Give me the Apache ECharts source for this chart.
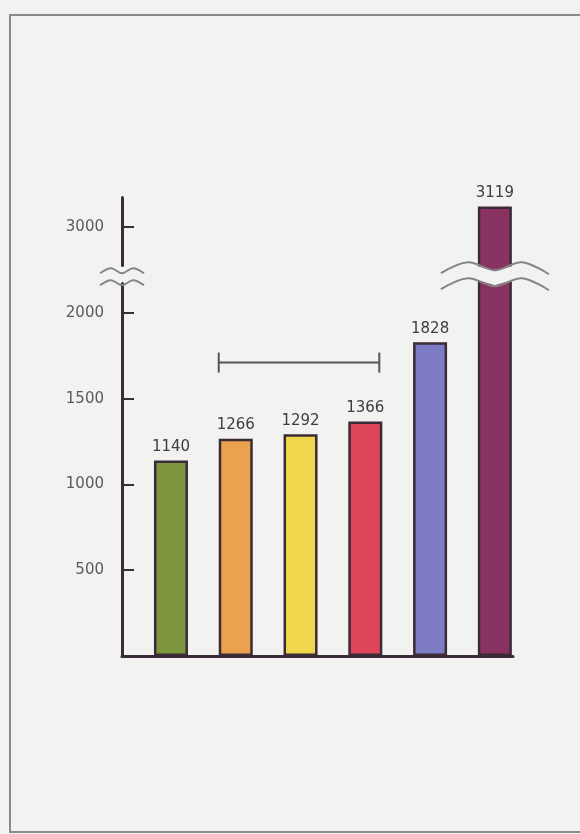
<!DOCTYPE html>
<html>
<head>
<meta charset="utf-8">
<script src="https://cdn.jsdelivr.net/npm/echarts@6/dist/echarts.min.js"></script>
<style>
html,body{margin:0;padding:0;background:#f2f2f1;}
#c{width:580px;height:834px;}
</style>
</head>
<body>
<div id="c"></div>
<script>
// ---- data ----
const values = [1140, 1266, 1292, 1366, 1828, 3119];
const tickValues = [500, 1000, 1500, 2000, 3000];
const axisBreak = { start: 2175, end: 2775, gap: 100 };
const bracketBars = [1, 3];
const bracketLevel = 1710;
const brokenBar = 5;

// ---- styles ----
const barColors = ['#7d963e', '#eba24f', '#f0d64d', '#e0465b', '#7c7bc3', '#8a3363'];
const BG = '#f2f2f1';
const INK = '#3a2d38';
const FONT = 'DejaVu Sans';
const xMin = -0.756, xMax = 5.28;
const BAR_W = 34;

const chart = echarts.init(document.getElementById('c'));
chart.setOption({
  backgroundColor: BG,
  animation: false,
  grid: { left: 122, right: 67, top: 197, bottom: 178 },
  xAxis: {
    type: 'value', min: xMin, max: xMax,
    axisLine: { show: true, onZero: false, lineStyle: { color: INK, width: 3 } },
    axisTick: { show: false }, axisLabel: { show: false }, splitLine: { show: false }
  },
  yAxis: {
    type: 'value', min: 0, max: 3175, interval: 500,
    breaks: [axisBreak],
    breakArea: { show: false },
    axisLine: { show: true, onZero: false, lineStyle: { color: INK, width: 3 } },
    axisTick: { show: true, inside: true, length: 12, customValues: tickValues,
      lineStyle: { color: INK, width: 2 } },
    axisLabel: { customValues: tickValues, margin: 18, color: '#5a5a5a',
      fontSize: 15, fontFamily: FONT, formatter: v => String(v) },
    splitLine: { show: false }
  },
  series: [{
    type: 'bar',
    barWidth: BAR_W,
    data: values.map((v, i) => ({ value: [i, v], itemStyle: { color: barColors[i] } })),
    itemStyle: { borderColor: '#3b2b36', borderWidth: 2.5 },
    label: {
      show: true, position: 'top', distance: 6, color: '#3d3d3d',
      fontSize: 15, fontFamily: FONT,
      formatter: p => String(p.value[1])
    }
  }]
});

// ---- decorations placed through the scales ----
const breakMid = (axisBreak.start + axisBreak.end) / 2;
const [axX, brY] = chart.convertToPixel({ gridIndex: 0 }, [xMin, breakMid]);
const [barX] = chart.convertToPixel({ gridIndex: 0 }, [brokenBar, breakMid]);
const [bx1, by] = chart.convertToPixel({ gridIndex: 0 }, [bracketBars[0], bracketLevel]);
const [bx2] = chart.convertToPixel({ gridIndex: 0 }, [bracketBars[1], bracketLevel]);

function shift(pts, cx, cy, dy) { return pts.map(p => [cx + p[0], cy + p[1] + dy]); }
const axUpper = [[-22, -1], [-11, -6], [0, -1], [11, -6], [22, -1]];
const barUpper = [[-54, -1], [-27, -12], [0, -4], [27, -12], [54, 0]];

const waveStyle = { fill: null, stroke: '#858585', lineWidth: 2 };
const graphics = [
  { type: 'rect', z: 0, silent: true, shape: { x: 10, y: 15, width: 600, height: 817 },
    style: { fill: null, stroke: '#8a8a8a', lineWidth: 2 } },
  // bar break band
  { type: 'polygon', z: 100, shape: { points: shift(barUpper, barX, brY, 1).concat(shift(barUpper, barX, brY, 15).reverse()) },
    style: { fill: BG } },
  { type: 'polyline', z: 101, shape: { points: shift(barUpper, barX, brY, 0), smooth: 0.35 }, style: waveStyle },
  { type: 'polyline', z: 101, shape: { points: shift(barUpper, barX, brY, 16), smooth: 0.35 }, style: waveStyle },
  // axis break marks
  { type: 'polyline', z: 101, shape: { points: shift(axUpper, axX, brY, 0), smooth: 0.35 }, style: waveStyle },
  { type: 'polyline', z: 101, shape: { points: shift(axUpper, axX, brY, 12), smooth: 0.35 }, style: waveStyle },
  // bracket over bars 2-4
  { type: 'polyline', z: 101, shape: { points: [[bx1 - BAR_W / 2, by], [bx2 + BAR_W / 2 - 3, by]] },
    style: { stroke: '#555', lineWidth: 2 } },
  { type: 'line', z: 101, shape: { x1: bx1 - BAR_W / 2, y1: by - 10, x2: bx1 - BAR_W / 2, y2: by + 10 },
    style: { stroke: '#555', lineWidth: 2 } },
  { type: 'line', z: 101, shape: { x1: bx2 + BAR_W / 2 - 3, y1: by - 10, x2: bx2 + BAR_W / 2 - 3, y2: by + 10 },
    style: { stroke: '#555', lineWidth: 2 } }
];
chart.setOption({ graphic: { elements: graphics } });
</script>
</body>
</html>
